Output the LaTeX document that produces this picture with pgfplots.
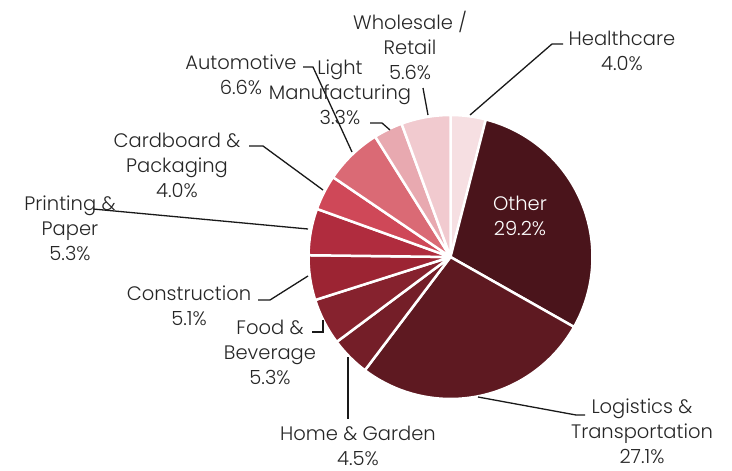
\documentclass[border=0pt]{standalone}
\usepackage{pgfplots}
\pgfplotsset{compat=1.18}
\usepackage{fontspec}
\setmainfont{Poppins}[UprightFont=* Light]

\definecolor{cHealth}{HTML}{F6DFE2}
\definecolor{cWhole}{HTML}{F1CACF}
\definecolor{cLight}{HTML}{E8A9B0}
\definecolor{cAuto}{HTML}{DA6A75}
\definecolor{cCard}{HTML}{CF4858}
\definecolor{cPrint}{HTML}{B02C3E}
\definecolor{cCons}{HTML}{9C2433}
\definecolor{cFood}{HTML}{86222E}
\definecolor{cHome}{HTML}{741E28}
\definecolor{cLog}{HTML}{5E1921}
\definecolor{cOther}{HTML}{4A141B}
\definecolor{txt}{HTML}{262626}

\tikzset{
  lbl/.style={align=center, text=txt, font=\fontsize{19.5}{25}\selectfont, inner sep=0pt},
  leader/.style={draw=black!90, line width=1.3pt},
}

\begin{document}
\begin{tikzpicture}
\begin{axis}[
    hide axis, scale only axis,
    width=732pt, height=471pt,
    xmin=0, xmax=732, ymin=0, ymax=471,
    y dir=reverse, clip=false,
  ]
  \path (axis cs:0,0) rectangle (axis cs:732,471);

  % share of each sector, clockwise from 12 o'clock
  \pgfplotsextra{
    \xdef\cum{90}
    \foreach \v/\c in {4.0/cHealth, 29.2/cOther, 27.1/cLog, 4.5/cHome, 5.3/cFood,
                       5.1/cCons, 5.3/cPrint, 4.0/cCard, 6.6/cAuto, 3.3/cLight, 5.6/cWhole}{
      \pgfmathsetmacro\aa{\cum}
      \pgfmathsetmacro\bb{\cum-3.6*\v}
      \fill[\c, draw=white, line width=2.5pt, line join=round]
        (axis cs:450.5,257) -- ++(\aa:142pt) arc[start angle=\aa, end angle=\bb, radius=142pt] -- cycle;
      \xdef\cum{\bb}
    }
  }

  % leader lines
  \draw[leader] (axis cs:470,115) -- (axis cs:552,44) -- (axis cs:563,44);
  \draw[leader] (axis cs:428,115) -- (axis cs:423,88);
  \draw[leader] (axis cs:390,130) -- (axis cs:382,123) -- (axis cs:370,123);
  \draw[leader] (axis cs:352,152) -- (axis cs:313,67) -- (axis cs:303,67);
  \draw[leader] (axis cs:323,190) -- (axis cs:263,146) -- (axis cs:249,146);
  \draw[leader] (axis cs:308,229) -- (axis cs:93,209);
  \draw[leader] (axis cs:308,276) -- (axis cs:270,300) -- (axis cs:258,300);
  \draw[leader] (axis cs:323,320) -- (axis cs:323,332) -- (axis cs:312,332);
  \draw[leader] (axis cs:348,357) -- (axis cs:348,419);
  \draw[leader] (axis cs:478,397) -- (axis cs:576,415) -- (axis cs:585,415);

  % labels
  \node[lbl] at (axis cs:622,50.5) {Healthcare\\4.0\%};
  \node[lbl] at (axis cs:410,45) {Wholesale /\\Retail\\5.6\%};
  \node[lbl] at (axis cs:340,92) {Light\\Manufacturing\\3.3\%};
  \node[lbl] at (axis cs:241,74.5) {Automotive\\6.6\%};
  \node[lbl] at (axis cs:177,165) {Cardboard \&\\Packaging\\4.0\%};
  \node[lbl] at (axis cs:70,228) {Printing \&\\Paper\\5.3\%};
  \node[lbl] at (axis cs:189,305.5) {Construction\\5.1\%};
  \node[lbl] at (axis cs:270,352) {Food \&\\Beverage\\5.3\%};
  \node[lbl] at (axis cs:358,445.5) {Home \& Garden\\4.5\%};
  \node[lbl] at (axis cs:642,431.5) {Logistics \&\\Transportation\\27.1\%};
  \node[lbl, text=white] at (axis cs:520,215.5) {Other\\29.2\%};
\end{axis}
\end{tikzpicture}
\end{document}
